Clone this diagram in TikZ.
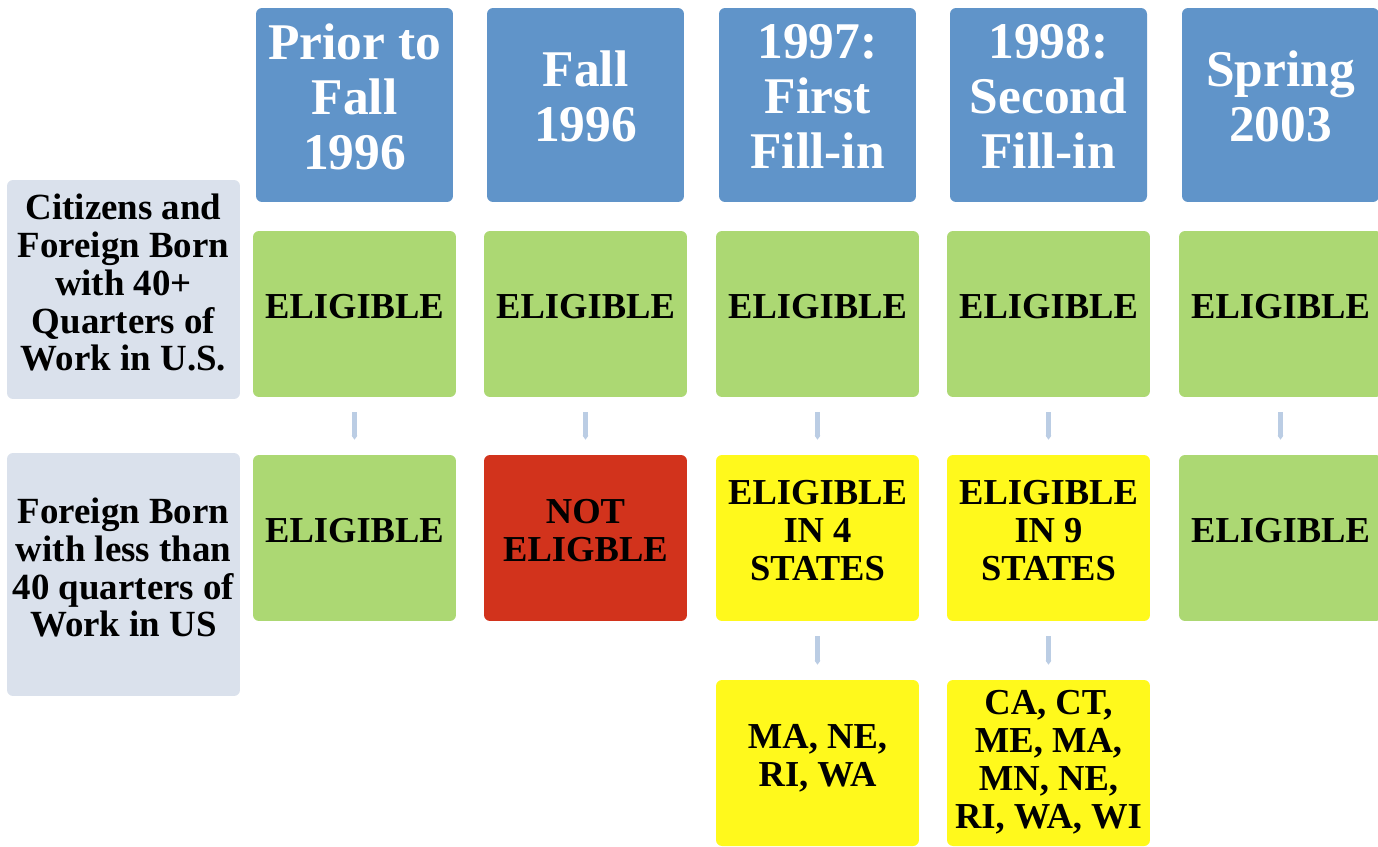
\documentclass[tikz,border=0pt]{standalone}
\usepackage{fontspec}
\setmainfont{Liberation Serif}
\usetikzlibrary{arrows.meta}

\definecolor{hdrblue}{HTML}{6094C9}
\definecolor{grpgray}{HTML}{DAE1EC}
\definecolor{okgreen}{HTML}{ACD873}
\definecolor{nored}{HTML}{D2331C}
\definecolor{partyellow}{HTML}{FFF91C}
\definecolor{flowblue}{HTML}{BBCDE4}

\tikzset{
  box/.style={rectangle, rounded corners=0.12cm, inner sep=0pt, align=center, text depth=9pt,
    font=\bfseries\fontsize{20.8}{21.6}\selectfont},
  hdrbox/.style={box, fill=hdrblue, text=white, minimum width=3.94cm, minimum height=3.88cm,
    text depth=10pt, font=\bfseries\fontsize{29.3}{31.3}\selectfont},
  grpbox/.style={box, fill=grpgray, minimum width=4.66cm, text depth=8pt,
    font=\bfseries\fontsize{21}{21.5}\selectfont},
  okbox/.style={box, fill=okgreen, minimum width=4.06cm, minimum height=3.32cm},
  nobox/.style={box, fill=nored, minimum width=4.06cm, minimum height=3.32cm},
  partbox/.style={box, fill=partyellow, minimum width=4.06cm, minimum height=3.32cm},
  flow/.style={draw=flowblue, line width=0.1cm, -{Triangle[length=0.08cm,width=0.11cm]},
    shorten <=0.3cm, shorten >=0.3cm}
}

\begin{document}
\begin{tikzpicture}[x=0.02cm, y=-0.02cm]
\path[use as bounding box, clip] (0,0) rectangle (1378,846);

% row labels
\node[grpbox, minimum height=4.38cm] (g1) at (123.5,289.5) {Citizens and\\Foreign Born\\with 40+\\Quarters of\\Work in U.S.};
\node[grpbox, minimum height=4.86cm] (g2) at (123.5,574.5) {Foreign Born\\with less than\\40 quarters of\\Work in US};

% periods
\node[hdrbox] (h1) at (354.5,105) {Prior to\\Fall\\1996};
\node[hdrbox] (h2) at (585.5,105) {Fall\\1996};
\node[hdrbox] (h3) at (817.5,105) {1997:\\First\\Fill-in};
\node[hdrbox] (h4) at (1048.5,105) {1998:\\Second\\Fill-in};
\node[hdrbox] (h5) at (1280.5,105) {Spring\\2003};

% first group
\node[okbox] (e1) at (354.5,314) {ELIGIBLE};
\node[okbox] (e2) at (585.5,314) {ELIGIBLE};
\node[okbox] (e3) at (817.5,314) {ELIGIBLE};
\node[okbox] (e4) at (1048.5,314) {ELIGIBLE};
\node[okbox] (e5) at (1280.5,314) {ELIGIBLE};

% second group
\node[okbox] (f1) at (354.5,538) {ELIGIBLE};
\node[nobox] (f2) at (585.5,538) {NOT\\ELIGBLE};
\node[partbox] (f3) at (817.5,538) {ELIGIBLE\\IN 4\\STATES};
\node[partbox] (f4) at (1048.5,538) {ELIGIBLE\\IN 9\\STATES};
\node[okbox] (f5) at (1280.5,538) {ELIGIBLE};

% states
\node[partbox] (s3) at (817.5,763) {MA, NE,\\RI, WA};
\node[partbox, text depth=4pt] (s4) at (1048.5,763) {CA, CT,\\ME, MA,\\MN, NE,\\RI, WA, WI};

\path[draw,flow] (e1) -- (f1);
\path[draw,flow] (e2) -- (f2);
\path[draw,flow] (e3) -- (f3);
\path[draw,flow] (e4) -- (f4);
\path[draw,flow] (e5) -- (f5);
\path[draw,flow] (f3) -- (s3);
\path[draw,flow] (f4) -- (s4);
\end{tikzpicture}
\end{document}
